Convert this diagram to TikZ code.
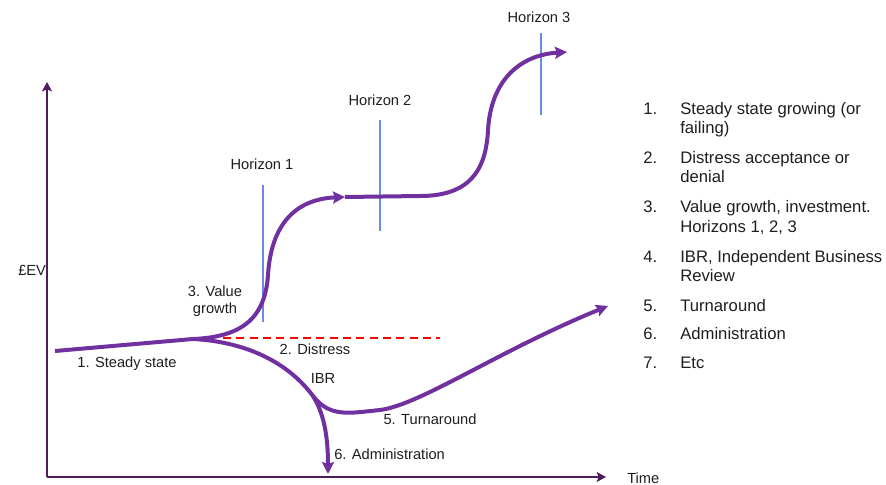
\documentclass[tikz,border=0pt]{standalone}
\usepackage{fontspec}
\setmainfont{Liberation Sans}
\usetikzlibrary{arrows.meta}
\definecolor{curvepurple}{HTML}{7030A0}
\definecolor{axispurple}{HTML}{4E1D5C}
\definecolor{horizonblue}{HTML}{6A8CE6}
\definecolor{txt}{HTML}{1E1E1E}
\tikzset{
  lbl/.style={inner sep=0pt, font=\fontsize{11}{13}\selectfont, text=txt},
  leg/.style={lbl, anchor=base west, font=\fontsize{12.5}{15}\selectfont},
  axisline/.style={draw=axispurple, line width=1.8pt, -{Stealth[length=7pt,width=7.5pt,inset=1.5pt]}},
  curveline/.style={draw=curvepurple, line width=3pt},
  curvearrow/.style={curveline, -{Stealth[length=9pt,width=9pt,inset=1.5pt]}},
  horizonline/.style={draw=horizonblue, line width=0.8pt},
  distressline/.style={draw=red, line width=1.2pt, dash pattern=on 6pt off 4pt},
}
\begin{document}
\begin{tikzpicture}[x=0.75pt,y=-0.75pt]
\useasboundingbox (0,0) rectangle (886,485);
% axes
\coordinate (origin) at (47,477);
\coordinate (ytop) at (47,82);
\coordinate (xend) at (606,477);
\draw[axisline] (origin) -- (ytop);
\draw[axisline] (origin) -- (xend);
\node[lbl, anchor=base west] (ylab) at (18,275) {£EV};
\node[lbl, anchor=base west] (xlab) at (627,483) {Time};
% horizon lines
\coordinate (h1a) at (263,185); \coordinate (h1b) at (263,322);
\coordinate (h2a) at (380,120); \coordinate (h2b) at (380,231);
\coordinate (h3a) at (541,33);  \coordinate (h3b) at (541,115);
\draw[horizonline] (h1a) -- (h1b);
\draw[horizonline] (h2a) -- (h2b);
\draw[horizonline] (h3a) -- (h3b);
\node[lbl, anchor=base] (hz1) at (262,170) {Horizon 1};
\node[lbl, anchor=base] (hz2) at (380,106) {Horizon 2};
\node[lbl, anchor=base] (hz3) at (539,23) {Horizon 3};
% distress dashed line
\coordinate (da) at (223,338); \coordinate (db) at (440,338);
\draw[distressline] (da) -- (db);
% curves
\coordinate (ss0) at (55,351);
\coordinate (split) at (193,339);
\coordinate (v1) at (268,275);
\coordinate (v1end) at (345,197);
\coordinate (flat) at (420,196);
\coordinate (v2) at (488,130);
\coordinate (v2end) at (567,52);
\coordinate (ibr) at (313,396);
\coordinate (bottom) at (380,410);
\coordinate (turnend) at (608,306);
\coordinate (admend) at (328,474);
\draw[curveline] (ss0) -- (split);
\draw[curvearrow] (split) .. controls (240,337) and (265,320) .. (v1)
   .. controls (271,225) and (295,199) .. (v1end);
\draw[curvearrow] (v1end) -- (flat) .. controls (470,196) and (486,170) .. (v2)
   .. controls (491,80) and (520,55) .. (v2end);
\draw[curvearrow] (split) .. controls (250,342) and (290,365) .. (ibr)
   .. controls (330,418) and (350,413) .. (bottom)
   .. controls (420,405) and (500,350) .. (turnend);
\draw[curvearrow] (ibr) .. controls (325,415) and (328,440) .. (admend);
% curve labels
\node[lbl, anchor=base] (ssl) at (127,367) {1. Steady state};
\node[lbl, anchor=base] (vg1) at (215,296) {3. Value};
\node[lbl, anchor=base] (vg2) at (215,313) {growth};
\node[lbl, anchor=base] (dsl) at (315,354) {2. Distress};
\node[lbl, anchor=base] (ibrl) at (323,383) {IBR};
\node[lbl, anchor=base] (tal) at (430,424) {5. Turnaround};
\node[lbl, anchor=base west] (adl) at (334,459) {6. Administration};
% legend
\node[leg] (n1) at (643,115) {1.};
\node[leg] (t1a) at (680,115) {Steady state growing (or};
\node[leg] (t1b) at (680,133) {failing)};
\node[leg] (n2) at (643,163) {2.};
\node[leg] (t2a) at (680,163) {Distress acceptance or};
\node[leg] (t2b) at (680,182) {denial};
\node[leg] (n3) at (643,212) {3.};
\node[leg] (t3a) at (680,212) {Value growth, investment.};
\node[leg] (t3b) at (680,232) {Horizons 1, 2, 3};
\node[leg] (n4) at (643,262) {4.};
\node[leg] (t4a) at (680,262) {IBR, Independent Business};
\node[leg] (t4b) at (680,281) {Review};
\node[leg] (n5) at (643,311) {5.};
\node[leg] (t5) at (680,311) {Turnaround};
\node[leg] (n6) at (643,339) {6.};
\node[leg] (t6) at (680,339) {Administration};
\node[leg] (n7) at (643,368) {7.};
\node[leg] (t7) at (680,368) {Etc};
\end{tikzpicture}
\end{document}
